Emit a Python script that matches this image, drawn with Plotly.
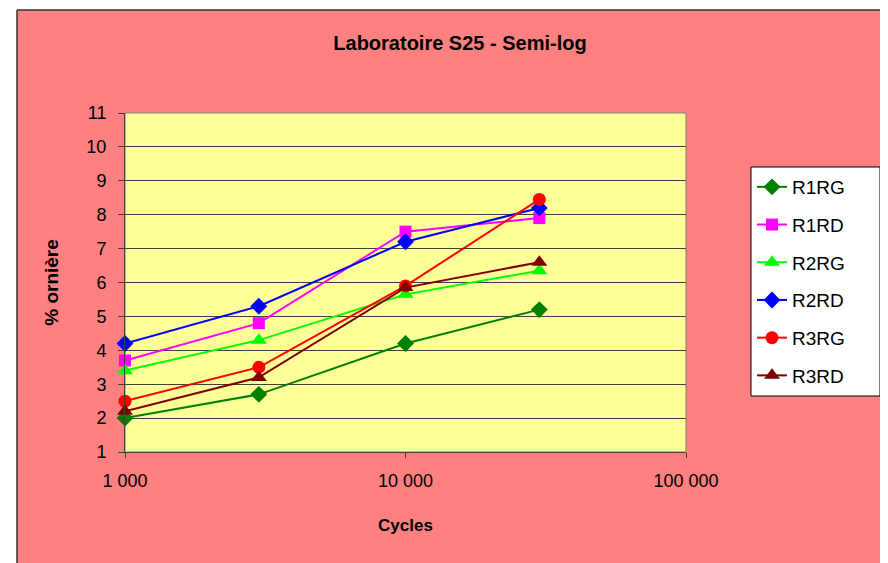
import plotly.graph_objects as go

cycles = [1000, 3000, 10000, 30000]
series_names = ["R1RG", "R1RD", "R2RG", "R2RD", "R3RG", "R3RD"]
r1rg = [2.0, 2.7, 4.2, 5.2]
r1rd = [3.7, 4.8, 7.5, 7.9]
r2rg = [3.4, 4.3, 5.65, 6.35]
r2rd = [4.2, 5.3, 7.2, 8.2]
r3rg = [2.5, 3.5, 5.9, 8.45]
r3rd = [2.2, 3.2, 5.85, 6.6]
x_tick_vals = [1000, 10000, 100000]
x_tick_text = ["1 000", "10 000", "100 000"]

values = [r1rg, r1rd, r2rg, r2rd, r3rg, r3rd]
colors = ["#008000", "#FF00FF", "#00FF00", "#0000FF", "#FF0000", "#800000"]
symbols = ["diamond", "square", "triangle-up", "diamond", "circle", "triangle-up"]
sizes = [13, 12, 14, 13, 13, 14]

fig = go.Figure()
for name, vals, c, s, sz in zip(series_names, values, colors, symbols, sizes):
    fig.add_trace(go.Scatter(
        x=cycles, y=vals, name=name, mode="lines+markers",
        line=dict(color=c, width=2),
        marker=dict(color=c, symbol=s, size=sz),
        legendgroup=name, cliponaxis=False,
    ))

# figure geometry (page body has 8px margin)
L, R, T, B = 117, 678, 105, 444
PW, PH = R - L, B - T
bx = (9 - L) / PW        # left border of pink frame, paper coords
by = (B - 2) / PH        # top border of pink frame, paper coords
# legend frame (pixels in figure)
LG_L, LG_R, LG_T, LG_B = 743, 872, 159, 388

font = "Arial, Liberation Sans, sans-serif"
fig.update_layout(
    width=888, height=563,
    paper_bgcolor="#FF8080",
    plot_bgcolor="#FFFF99",
    margin=dict(l=L, r=888 - R, t=T, b=563 - B),
    font=dict(family=font, color="black", size=18),
    title=dict(text="<b>Laboratoire S25 - Semi-log</b>", x=452 / 888, xanchor="center",
               y=1 - 35 / 563, yanchor="middle", font=dict(size=20, family=font)),
    showlegend=True,
    legend=dict(x=(LG_L + 1 - L) / PW, y=(B - LG_T - 1) / PH, xanchor="left", yanchor="top",
                bgcolor="rgba(0,0,0,0)", borderwidth=0,
                font=dict(size=19), tracegroupgap=10, itemwidth=30),
    shapes=[
        dict(type="rect", xref="paper", yref="paper", x0=-2, x1=bx, y0=-2, y1=3,
             fillcolor="white", line=dict(width=0), layer="below"),
        dict(type="rect", xref="paper", yref="paper", x0=-2, x1=3, y0=by, y1=3,
             fillcolor="white", line=dict(width=0), layer="below"),
        dict(type="line", xref="paper", yref="paper", x0=bx, x1=bx, y0=-2, y1=by,
             line=dict(color="#303030", width=1.5)),
        dict(type="line", xref="paper", yref="paper", x0=bx, x1=3, y0=by, y1=by,
             line=dict(color="#303030", width=1.5)),
        dict(type="rect", xref="paper", yref="paper", x0=0, x1=1, y0=0, y1=1,
             line=dict(color="#808080", width=1), layer="below"),
        dict(type="rect", xref="paper", yref="paper",
             x0=(LG_L - L) / PW, x1=(LG_R - L) / PW,
             y0=(B - LG_B) / PH, y1=(B - LG_T) / PH,
             fillcolor="white", line=dict(color="black", width=1)),
    ],
)
fig.update_xaxes(type="log", range=[2.99999, 5.00001], tickvals=x_tick_vals, ticktext=x_tick_text,
                 showgrid=False, showline=True, linecolor="#404040", linewidth=1,
                 ticks="outside", ticklen=5, tickcolor="#404040",
                 ticklabelstandoff=7, tickfont=dict(size=18),
                 title=dict(text="<b>Cycles</b>", font=dict(size=17), standoff=29), zeroline=False)
fig.update_yaxes(range=[1, 11], dtick=1, showgrid=True, gridcolor="#404040", gridwidth=1,
                 showline=True, linecolor="#404040", linewidth=1,
                 ticks="outside", ticklen=6, tickcolor="#404040",
                 ticklabelstandoff=8, tickfont=dict(size=18),
                 title=dict(text="<b>% ornière</b>", font=dict(size=19), standoff=22), zeroline=False)

fig.write_html("out.html")
